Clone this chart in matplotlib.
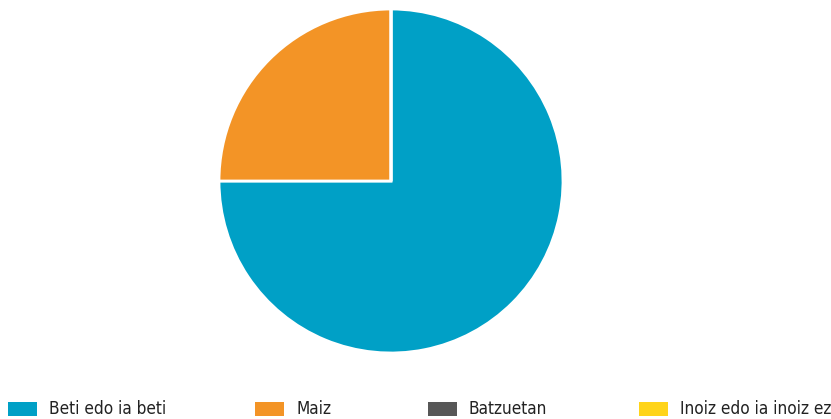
import matplotlib
matplotlib.use("Agg")
import matplotlib.pyplot as plt
from matplotlib.patches import Rectangle

# Datuak
kategoriak = ["Beti edo ia beti", "Maiz", "Batzuetan", "Inoiz edo ia inoiz ez"]
balioak = [75, 25, 0, 0]
koloreak = ["#00A0C6", "#F39426", "#575757", "#FFD41A"]

# legendaren kokapenak (pixeletan, ezkerretik)
leg_x = [8, 255, 428, 639]

plt.rcParams["font.family"] = ["DejaVu Sans"]

fig = plt.figure(figsize=(8.31, 4.19), dpi=100)
W, H = 831, 419
cx, cy, r = 391, 181, 172
ax = fig.add_axes([(cx - r) / W, (H - cy - r) / H, 2 * r / W, 2 * r / H])

wedges, _ = ax.pie(balioak, colors=koloreak, startangle=90, counterclock=False,
                   radius=1, wedgeprops=dict(edgecolor="white", linewidth=2))
ax.set_xlim(-1, 1)
ax.set_ylim(-1, 1)
ax.set_aspect("equal")

# legenda eskuz
for x, izena, kolorea in zip(leg_x, kategoriak, koloreak):
    fig.patches.append(Rectangle((x / W, (H - 416) / H), 29 / W, 14 / H,
                                 transform=fig.transFigure, facecolor=kolorea,
                                 edgecolor="none"))
    fig.text((x + 41) / W, (H - 408.5) / H, izena, ha="left", va="center",
             fontsize=12.3, fontstretch="condensed", color="#222222")

fig.savefig("out.png", dpi=100)
